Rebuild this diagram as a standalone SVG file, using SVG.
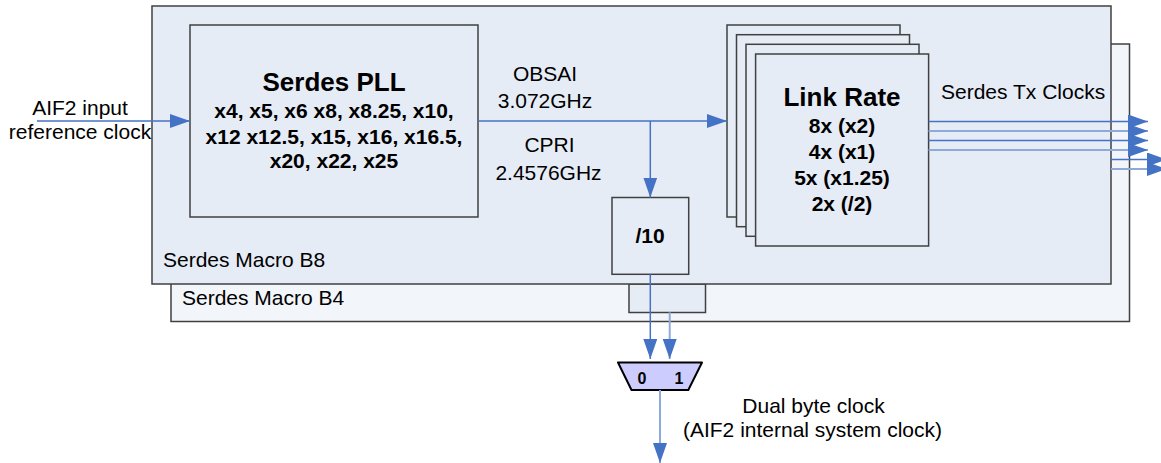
<svg xmlns="http://www.w3.org/2000/svg" width="1161" height="463" viewBox="0 0 1161 463">
<style>
text{font-family:"Liberation Sans",Arial,sans-serif;fill:#000}
.t{font-size:21px}
.b{font-size:21px;font-weight:bold}
.h{font-size:26px;font-weight:bold}
.m{text-anchor:middle}
.d{font-size:16px;font-weight:bold;text-anchor:middle}
.box{fill:#E6ECF6;stroke:#404040;stroke-width:1.5}
.outer{fill:#F2F5FA;stroke:#404040;stroke-width:1.5}
.dk{stroke:#4472C4;stroke-width:1.5;fill:none}
.lt{stroke:#8EAADB;stroke-width:2;fill:none}
</style>
<defs>
<marker id="ah" markerUnits="userSpaceOnUse" markerWidth="21" markerHeight="15" refX="20" refY="7" orient="auto">
<path d="M0,0 L20,7 L0,14 z" fill="#4472C4"/>
</marker>
</defs>
<g id="macroB4">
<rect class="outer" x="171" y="44" width="958.5" height="277.5"/>
<text class="t" x="182" y="305">Serdes Macro B4</text>
</g>
<g id="div10B4">
<rect class="box" x="629" y="284" width="76.5" height="28.5"/>
</g>
<g id="macroB8">
<rect class="box" x="152" y="6" width="959" height="278"/>
<text class="t" x="163" y="267">Serdes Macro B8</text>
</g>
<g id="pll">
<rect class="box" x="190" y="25" width="288" height="192"/>
<text class="h m" x="334" y="91">Serdes PLL</text>
<text class="b m" x="334" y="118">x4, x5, x6 x8, x8.25, x10,</text>
<text class="b m" x="334" y="144">x12 x12.5, x15, x16, x16.5,</text>
<text class="b m" x="334" y="168">x20, x22, x25</text>
</g>
<g id="linkrate">
<rect class="box" x="727" y="25" width="173" height="192"/>
<rect class="box" x="736.5" y="34.7" width="173" height="192"/>
<rect class="box" x="746" y="44.3" width="173" height="192"/>
<rect class="box" x="755.6" y="54" width="173" height="192"/>
<text class="h m" x="842" y="106">Link Rate</text>
<text class="b m" x="842" y="133">8x (x2)</text>
<text class="b m" x="842" y="159">4x (x1)</text>
<text class="b m" x="842" y="185">5x (x1.25)</text>
<text class="b m" x="842" y="211">2x (/2)</text>
</g>
<g id="div10B8">
<rect class="box" x="612" y="197.5" width="76.7" height="76.8"/>
<text class="b m" x="650" y="243">/10</text>
</g>
<g id="mux">
<path d="M618,362.5 L702,362.5 L688.3,390 L631.5,390 z" fill="#CCCCFF" stroke="#000" stroke-width="2" stroke-linejoin="round"/>
<text class="d" x="642" y="384">0</text>
<text class="d" x="679" y="384">1</text>
</g>
<g id="labels">
<text class="t m" x="80" y="115">AIF2 input</text>
<text class="t m" x="80" y="139">reference clock</text>
<text class="t m" x="545" y="81">OBSAI</text>
<text class="t m" x="545" y="108">3.072GHz</text>
<text class="t m" x="549.5" y="152">CPRI</text>
<text class="t m" x="548.5" y="180">2.4576GHz</text>
<text class="t" x="941" y="99">Serdes Tx Clocks</text>
<text class="t m" x="813.5" y="413">Dual byte clock</text>
<text class="t m" x="812.5" y="437">(AIF2 internal system clock)</text>
</g>
<g id="connectors">
<line class="dk" x1="37" y1="121" x2="190" y2="121" marker-end="url(#ah)"/>
<line class="dk" x1="478" y1="121" x2="727" y2="121" marker-end="url(#ah)"/>
<line class="dk" x1="650.3" y1="121" x2="650.3" y2="197.5" marker-end="url(#ah)"/>
<line class="dk" x1="650.3" y1="274.3" x2="650.3" y2="359" marker-end="url(#ah)"/>
<line class="lt" x1="669.7" y1="312.3" x2="669.7" y2="359" marker-end="url(#ah)"/>
<line class="lt" x1="660" y1="390" x2="660" y2="463" marker-end="url(#ah)"/>
<line class="dk" x1="928.6" y1="121.5" x2="1148" y2="121.5" marker-end="url(#ah)"/>
<line class="lt" x1="928.6" y1="131" x2="1148" y2="131" marker-end="url(#ah)"/>
<line class="dk" x1="928.6" y1="140.5" x2="1148" y2="140.5" marker-end="url(#ah)"/>
<line class="lt" x1="928.6" y1="150" x2="1148" y2="150" marker-end="url(#ah)"/>
<line class="dk" x1="1111" y1="159.5" x2="1167" y2="159.5" marker-end="url(#ah)"/>
<line class="lt" x1="1111" y1="169" x2="1167" y2="169" marker-end="url(#ah)"/>
</g>
</svg>
